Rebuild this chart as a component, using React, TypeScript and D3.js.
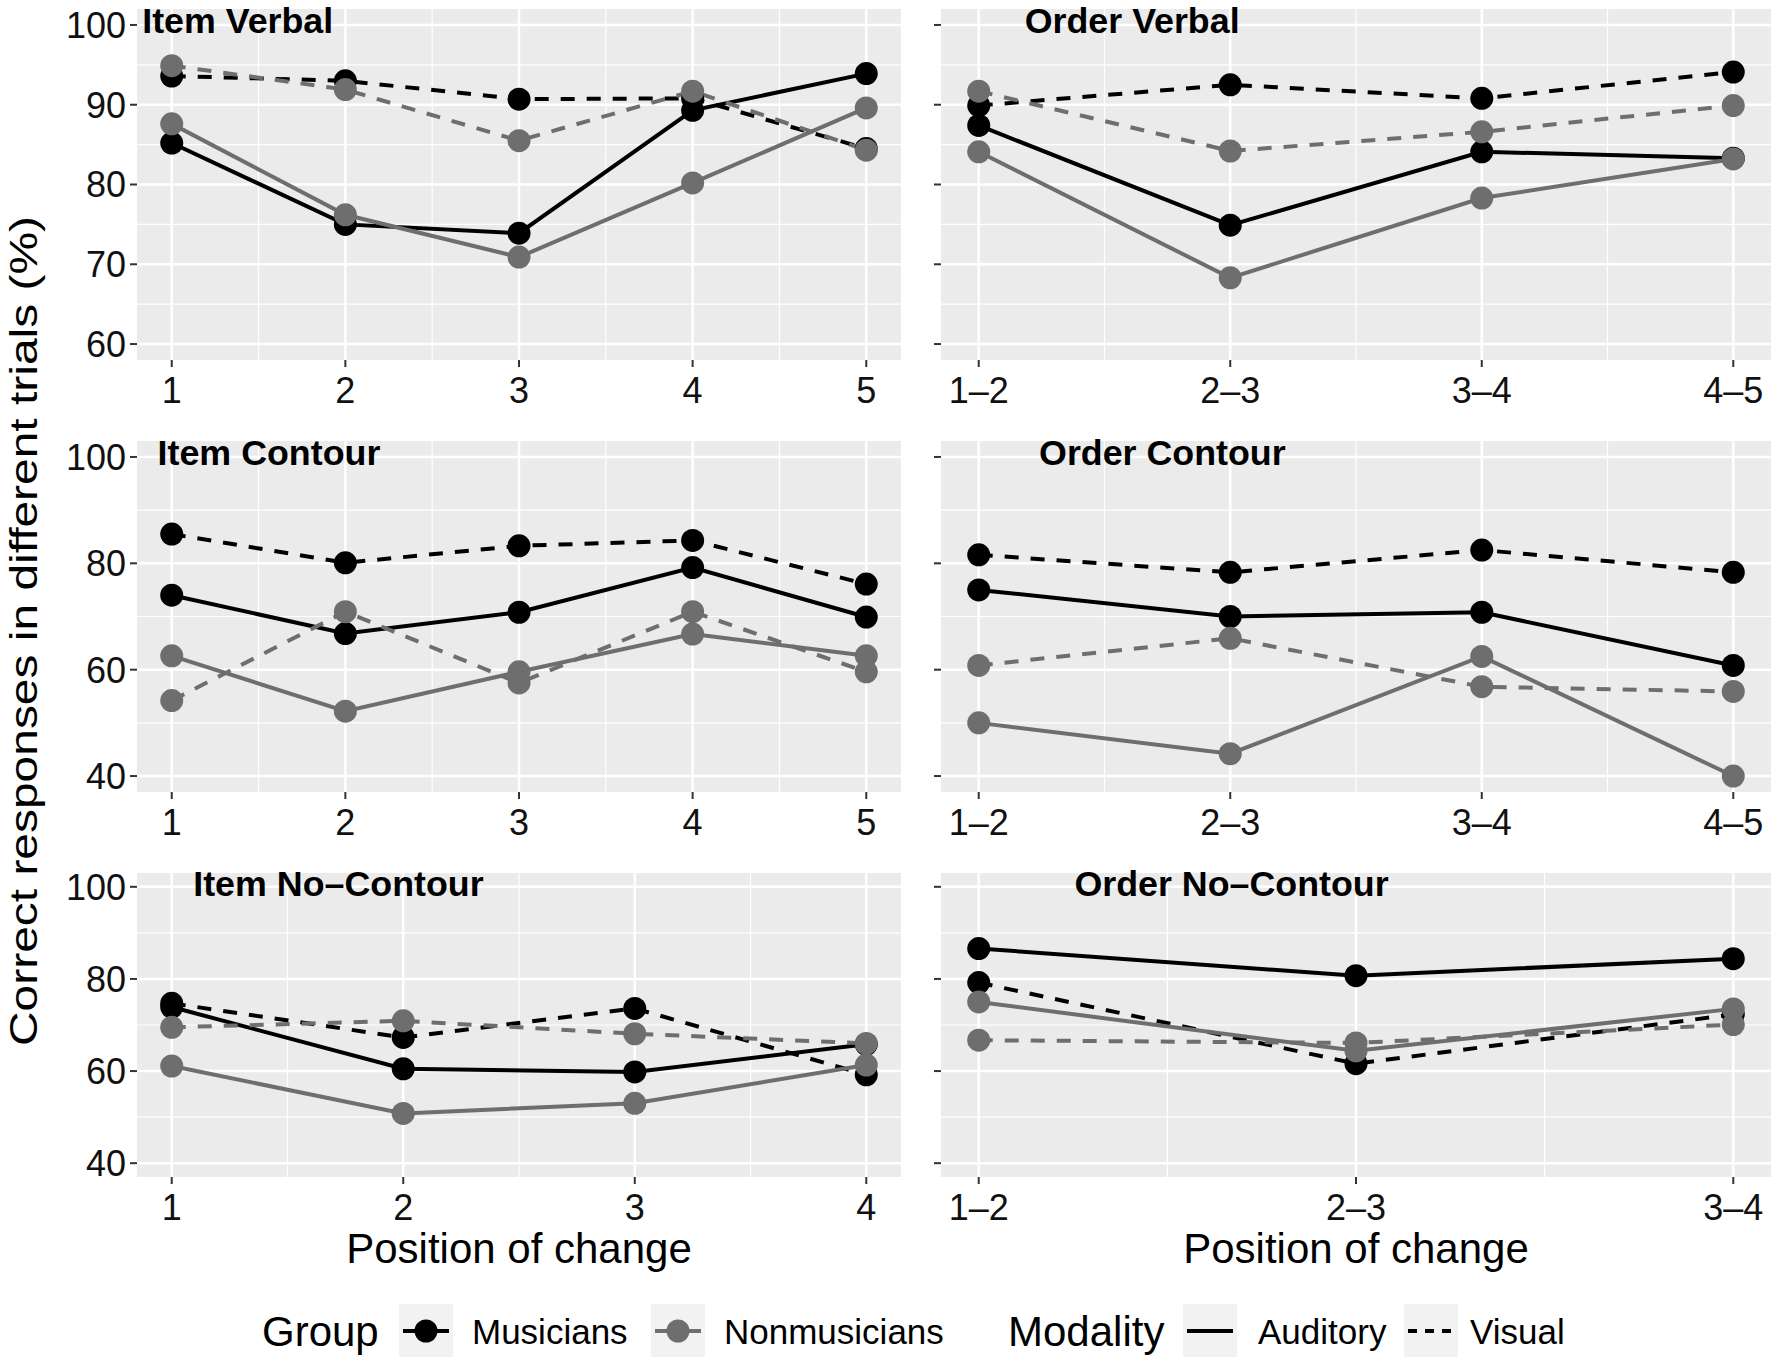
import React from "react";
import * as d3 from "d3";

// x-axis categories
const itemPositions5 = ["1", "2", "3", "4", "5"];
const itemPositions4 = ["1", "2", "3", "4"];
const orderPairs5 = ["1–2", "2–3", "3–4", "4–5"];
const orderPairs4 = ["1–2", "2–3", "3–4"];

const groups = ["Musicians", "Nonmusicians"];
const modalities = ["Auditory", "Visual"];

// y ticks
const yTicksTop = [60, 70, 80, 90, 100];
const yTicksLower = [40, 60, 80, 100];

// Item Verbal
const itemVerbalMusAud = [85.2, 75.0, 73.9, 89.3, 93.9];
const itemVerbalMusVis = [93.6, 93.0, 90.7, 90.8, 84.5];
const itemVerbalNonAud = [87.6, 76.2, 70.9, 80.2, 89.6];
const itemVerbalNonVis = [94.9, 91.9, 85.5, 91.7, 84.3];

// Order Verbal
const orderVerbalMusAud = [87.4, 74.9, 84.1, 83.3];
const orderVerbalMusVis = [89.9, 92.5, 90.8, 94.1];
const orderVerbalNonAud = [84.1, 68.3, 78.3, 83.2];
const orderVerbalNonVis = [91.7, 84.2, 86.6, 89.9];

// Item Contour
const itemContourMusAud = [74.0, 66.8, 70.8, 79.2, 69.9];
const itemContourMusVis = [85.5, 80.1, 83.3, 84.3, 76.1];
const itemContourNonAud = [62.6, 52.2, 59.6, 66.7, 62.6];
const itemContourNonVis = [54.2, 70.9, 57.5, 70.9, 59.6];

// Order Contour
const orderContourMusAud = [75.0, 70.0, 70.8, 60.8];
const orderContourMusVis = [81.6, 78.3, 82.5, 78.3];
const orderContourNonAud = [50.0, 44.2, 62.5, 40.0];
const orderContourNonVis = [60.8, 65.9, 56.8, 55.9];

// Item No-Contour
const itemNoContourMusAud = [73.9, 60.5, 59.8, 65.8];
const itemNoContourMusVis = [74.7, 67.3, 73.6, 59.2];
const itemNoContourNonAud = [61.1, 50.8, 53.0, 61.3];
const itemNoContourNonVis = [69.5, 70.9, 68.1, 66.0];

// Order No-Contour
const orderNoContourMusAud = [86.6, 80.7, 84.4];
const orderNoContourMusVis = [79.2, 61.6, 72.3];
const orderNoContourNonAud = [75.0, 64.4, 73.5];
const orderNoContourNonVis = [66.7, 66.1, 70.1];

const FONT = "'Liberation Sans', Arial, Helvetica, sans-serif";
const MUS_COLOR = "#000000";
const NON_COLOR = "#6E6E6E";
const DASH = "14,12";
const PANEL_BG = "#EBEBEB";
const TICK_FONT = 36;
const TITLE_FONT = 35.8;
const LINE_W = 4;
const PT_R = 11.5;

const COLS: [number, number][] = [
  [137, 901],
  [941, 1771],
];
const ROWS: [number, number][] = [
  [9, 360],
  [441, 792],
  [873, 1177],
];

interface PanelSpec {
  title: string;
  titleX: number; // in data units (position index)
  titleY: number;
  labels: string[];
  yTicks: number[];
  row: number;
  col: number;
  musAud: number[];
  musVis: number[];
  nonAud: number[];
  nonVis: number[];
}

const panels: PanelSpec[] = [
  { title: "Item Verbal", titleX: 1.38, titleY: 100.6, labels: itemPositions5, yTicks: yTicksTop, row: 0, col: 0,
    musAud: itemVerbalMusAud, musVis: itemVerbalMusVis, nonAud: itemVerbalNonAud, nonVis: itemVerbalNonVis },
  { title: "Order Verbal", titleX: 1.61, titleY: 100.6, labels: orderPairs5, yTicks: yTicksTop, row: 0, col: 1,
    musAud: orderVerbalMusAud, musVis: orderVerbalMusVis, nonAud: orderVerbalNonAud, nonVis: orderVerbalNonVis },
  { title: "Item Contour", titleX: 1.56, titleY: 100.9, labels: itemPositions5, yTicks: yTicksLower, row: 1, col: 0,
    musAud: itemContourMusAud, musVis: itemContourMusVis, nonAud: itemContourNonAud, nonVis: itemContourNonVis },
  { title: "Order Contour", titleX: 1.73, titleY: 100.9, labels: orderPairs5, yTicks: yTicksLower, row: 1, col: 1,
    musAud: orderContourMusAud, musVis: orderContourMusVis, nonAud: orderContourNonAud, nonVis: orderContourNonVis },
  { title: "Item No–Contour", titleX: 1.72, titleY: 100.7, labels: itemPositions4, yTicks: yTicksLower, row: 2, col: 0,
    musAud: itemNoContourMusAud, musVis: itemNoContourMusVis, nonAud: itemNoContourNonAud, nonVis: itemNoContourNonVis },
  { title: "Order No–Contour", titleX: 1.67, titleY: 100.7, labels: orderPairs4, yTicks: yTicksLower, row: 2, col: 1,
    musAud: orderNoContourMusAud, musVis: orderNoContourMusVis, nonAud: orderNoContourNonAud, nonVis: orderNoContourNonVis },
];

function Panel({ p }: { p: PanelSpec }) {
  const [x0, x1] = COLS[p.col];
  const [top, bottom] = ROWS[p.row];
  const n = p.labels.length;
  const ex = 0.05 * (n - 1);
  const x = d3.scaleLinear().domain([1 - ex, n + ex]).range([x0, x1]);
  const lo = d3.min(p.yTicks)!;
  const hi = d3.max(p.yTicks)!;
  const ey = 0.05 * (hi - lo);
  const y = d3.scaleLinear().domain([lo - ey, hi + ey]).range([bottom, top]);

  const xs = d3.range(1, n + 1);
  const xMinor = d3.range(1.5, n, 1);
  const yMinor = d3.pairs(p.yTicks).map(([a, b]) => (a + b) / 2);

  const line = d3
    .line<number>()
    .x((_, i) => x(i + 1))
    .y((d) => y(d));

  const series = [
    { v: p.musAud, c: MUS_COLOR, dash: undefined },
    { v: p.musVis, c: MUS_COLOR, dash: DASH },
    { v: p.nonAud, c: NON_COLOR, dash: undefined },
    { v: p.nonVis, c: NON_COLOR, dash: DASH },
  ];

  return (
    <g>
      <rect x={x0} y={top} width={x1 - x0} height={bottom - top} fill={PANEL_BG} />
      {yMinor.map((t) => (
        <line key={"ym" + t} x1={x0} x2={x1} y1={y(t)} y2={y(t)} stroke="#fff" strokeWidth={1.2} />
      ))}
      {xMinor.map((t) => (
        <line key={"xm" + t} x1={x(t)} x2={x(t)} y1={top} y2={bottom} stroke="#fff" strokeWidth={1.2} />
      ))}
      {p.yTicks.map((t) => (
        <line key={"yM" + t} x1={x0} x2={x1} y1={y(t)} y2={y(t)} stroke="#fff" strokeWidth={2.4} />
      ))}
      {xs.map((t) => (
        <line key={"xM" + t} x1={x(t)} x2={x(t)} y1={top} y2={bottom} stroke="#fff" strokeWidth={2.4} />
      ))}
      {/* y ticks */}
      {p.yTicks.map((t) => (
        <g key={"yt" + t}>
          <line x1={x0 - 7} x2={x0} y1={y(t)} y2={y(t)} stroke="#333" strokeWidth={2} />
          {p.col === 0 && (
            <text x={x0 - 11} y={y(t)} dy="0.36em" textAnchor="end" fontSize={TICK_FONT} fill="#111">
              {t}
            </text>
          )}
        </g>
      ))}
      {/* x ticks */}
      {xs.map((t, i) => (
        <g key={"xt" + t}>
          <line x1={x(t)} x2={x(t)} y1={bottom} y2={bottom + 7} stroke="#333" strokeWidth={2} />
          <text x={x(t)} y={bottom + 43} textAnchor="middle" fontSize={TICK_FONT} fill="#111">
            {p.labels[i]}
          </text>
        </g>
      ))}
      {/* lines */}
      {series.map((s, i) => (
        <path key={"l" + i} d={line(s.v)!} fill="none" stroke={s.c} strokeWidth={LINE_W} strokeDasharray={s.dash} />
      ))}
      {/* points */}
      {series.map((s, i) =>
        s.v.map((v, j) => <circle key={"p" + i + "-" + j} cx={x(j + 1)} cy={y(v)} r={PT_R} fill={s.c} />)
      )}
      <text
        x={x(p.titleX)}
        y={y(p.titleY)}
        dy="0.36em"
        textAnchor="middle"
        fontSize={TITLE_FONT}
        fontWeight="bold"
        fill="#000"
      >
        {p.title}
      </text>
    </g>
  );
}

function Legend() {
  const cy = 1331;
  const kw = 54;
  const kh = 54;
  const groupKeys = [
    { label: groups[0], kx: 399, tx: 472, c: MUS_COLOR },
    { label: groups[1], kx: 651, tx: 724, c: NON_COLOR },
  ];
  const modKeys = [
    { label: modalities[0], kx: 1183, tx: 1258, dash: undefined },
    { label: modalities[1], kx: 1404, tx: 1470, dash: "9,8" },
  ];
  return (
    <g>
      <text x={262} y={cy} dy="0.36em" fontSize={42}>
        Group
      </text>
      {groupKeys.map((k) => (
        <g key={k.label}>
          <rect x={k.kx} y={cy - kh / 2} width={kw} height={kh} fill="#F2F2F2" />
          <line x1={k.kx + 4} x2={k.kx + kw - 4} y1={cy} y2={cy} stroke={k.c} strokeWidth={LINE_W} />
          <circle cx={k.kx + kw / 2} cy={cy} r={PT_R} fill={k.c} />
          <text x={k.tx} y={cy} dy="0.36em" fontSize={35}>
            {k.label}
          </text>
        </g>
      ))}
      <text x={1008} y={cy} dy="0.36em" fontSize={42}>
        Modality
      </text>
      {modKeys.map((k) => (
        <g key={k.label}>
          <rect x={k.kx} y={cy - kh / 2} width={kw} height={kh} fill="#F2F2F2" />
          <line x1={k.kx + 4} x2={k.kx + kw - 4} y1={cy} y2={cy} stroke="#000" strokeWidth={LINE_W} strokeDasharray={k.dash} />
          <text x={k.tx} y={cy} dy="0.36em" fontSize={35}>
            {k.label}
          </text>
        </g>
      ))}
    </g>
  );
}

export default function App() {
  const W = 1773;
  const H = 1357;
  return (
    <div style={{ position: "absolute", left: 0, top: 0 }}>
      <svg width={W} height={H} viewBox={`0 0 ${W} ${H}`} style={{ display: "block", fontFamily: FONT }}>
        <rect width={W} height={H} fill="#fff" />
        {panels.map((p) => (
          <Panel key={p.title} p={p} />
        ))}
        <text
          transform={`translate(37, 631) rotate(-90)`}
          textAnchor="middle"
          fontSize={38}
          textLength={830}
          lengthAdjust="spacingAndGlyphs"
          fill="#000"
        >
          Correct responses in different trials (%)
        </text>
        <text x={(COLS[0][0] + COLS[0][1]) / 2} y={1263} textAnchor="middle" fontSize={42}>
          Position of change
        </text>
        <text x={(COLS[1][0] + COLS[1][1]) / 2} y={1263} textAnchor="middle" fontSize={42}>
          Position of change
        </text>
        <Legend />
      </svg>
    </div>
  );
}
